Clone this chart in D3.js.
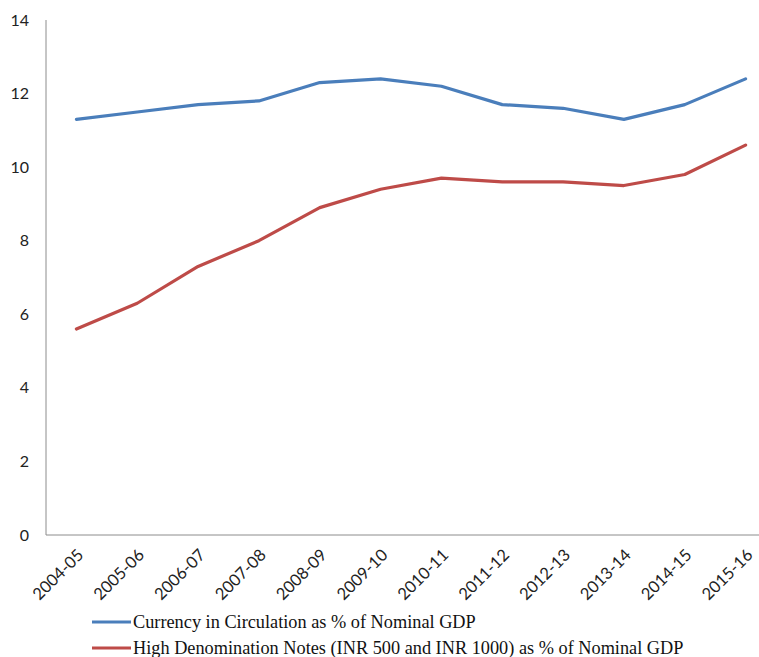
<!DOCTYPE html>
<html><head><meta charset="utf-8">
<script src="https://cdn.jsdelivr.net/npm/d3@7"></script>
<style>body{margin:0;background:#fff}svg{display:block}</style>
</head><body><svg id="c" width="759" height="657"></svg>
<script>
const categories = ["2004-05","2005-06","2006-07","2007-08","2008-09","2009-10","2010-11","2011-12","2012-13","2013-14","2014-15","2015-16"];
const currencyValues = [11.3,11.5,11.7,11.8,12.3,12.4,12.2,11.7,11.6,11.3,11.7,12.4];
const highDenomValues = [5.6,6.3,7.3,8.0,8.9,9.4,9.7,9.6,9.6,9.5,9.8,10.6];
const yTicks = [0,2,4,6,8,10,12,14];
const seriesNames = ["Currency in Circulation as % of Nominal GDP","High Denomination Notes (INR 500 and INR 1000) as % of Nominal GDP"];
const colors = ["#4a7ebb","#be4b48"];

const svg = d3.select("#c");
const x = d3.scaleBand().domain(categories).range([46, 776]);
const y = d3.scaleLinear().domain([0,14]).range([535,20]);

// axes
svg.append("line").attr("x1",46).attr("x2",46).attr("y1",y(14)).attr("y2",y(0)).attr("stroke","#8c8c8c").attr("stroke-width",1);
svg.append("line").attr("x1",46).attr("x2",776).attr("y1",y(0)).attr("y2",y(0)).attr("stroke","#8c8c8c").attr("stroke-width",1);

svg.append("g").selectAll("text").data(yTicks).join("text")
  .attr("x",29).attr("y",d=>y(d)).attr("dy","0.35em").attr("text-anchor","end")
  .attr("font-family","Lato, 'Open Sans', sans-serif").attr("font-size",16).attr("fill","#222")
  .text(d=>d);

svg.append("g").selectAll("text").data(categories).join("text")
  .attr("transform",d=>`translate(${x(d)+x.bandwidth()/2+4},${y(0)+17}) rotate(-45)`)
  .attr("text-anchor","end").attr("dy","0.35em")
  .attr("font-family","Lato, 'Open Sans', sans-serif").attr("font-size",16.5).attr("fill","#222")
  .text(d=>d);

const line = d3.line().x((d,i)=>x(categories[i])+x.bandwidth()/2).y(d=>y(d));
[currencyValues, highDenomValues].forEach((vals,k)=>{
  svg.append("path").datum(vals).attr("d",line).attr("fill","none")
    .attr("stroke",colors[k]).attr("stroke-width",3.2).attr("stroke-linejoin","round").attr("stroke-linecap","round");
});

// legend
const lg = svg.append("g");
seriesNames.forEach((n,k)=>{
  const yy = 622 + k*26;
  lg.append("line").attr("x1",92).attr("x2",131).attr("y1",yy).attr("y2",yy).attr("stroke",colors[k]).attr("stroke-width",3.2);
  lg.append("text").attr("x",133).attr("y",yy).attr("dy","0.33em")
    .attr("font-family","'Liberation Serif', 'Times New Roman', serif").attr("font-size",18.3).attr("fill","#111").text(n);
});
</script></body></html>
